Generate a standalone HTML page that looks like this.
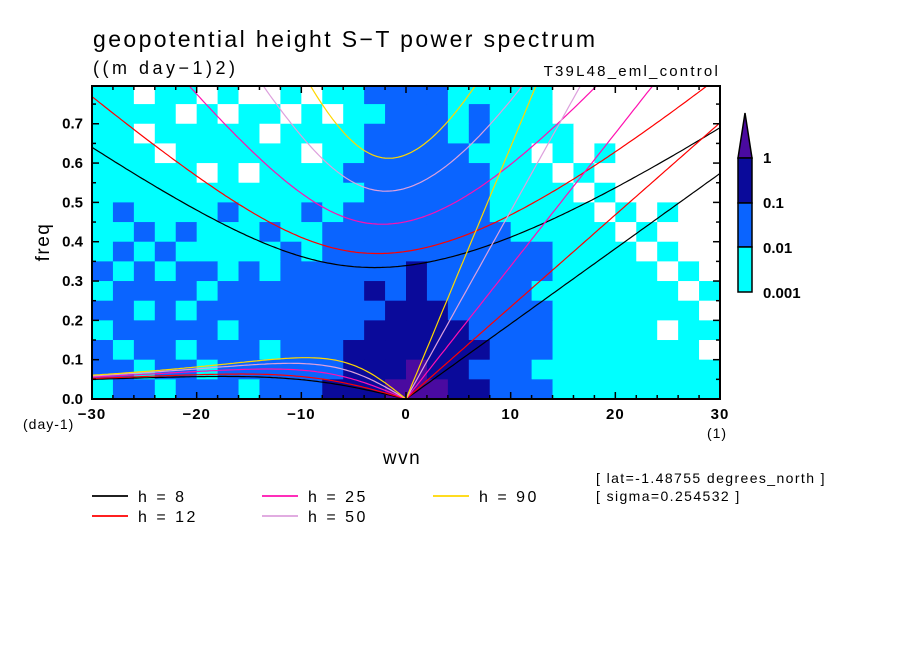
<!DOCTYPE html>
<html><head><meta charset="utf-8"><style>
html,body{margin:0;padding:0;background:#fff;}
svg text{font-family:"Liberation Sans",sans-serif;fill:#000;}
</style></head><body>
<svg id="chart" width="904" height="654" xmlns="http://www.w3.org/2000/svg">
<defs><clipPath id="pc"><rect x="92" y="86" width="628" height="313"/></clipPath></defs>
<text x="93" y="47" font-size="23" letter-spacing="2.4">geopotential height S−T power spectrum</text>
<text x="93" y="74" font-size="18" letter-spacing="3.5">((m day−1)2)</text>
<text x="720" y="76" font-size="15" text-anchor="end" letter-spacing="2.2">T39L48_eml_control</text>
<g id="field" clip-path="url(#pc)"></g>
<g id="curves" clip-path="url(#pc)"></g>
<rect x="92" y="86" width="628" height="313" fill="none" stroke="#000" stroke-width="2"/>
<g id="axes"></g>
<text transform="translate(49,242) rotate(-90)" font-size="19" text-anchor="middle" letter-spacing="1.5">freq</text>
<text x="23" y="429" font-size="14" letter-spacing="1">(day-1)</text>
<text x="717" y="438" font-size="14" text-anchor="middle" letter-spacing="1">(1)</text>
<text x="402" y="464" font-size="19" text-anchor="middle" letter-spacing="1.5">wvn</text>
<g id="cbar"></g>
<g id="legend"></g>
<text x="596" y="483" font-size="14" letter-spacing="1.4">[ lat=-1.48755 degrees_north ]</text>
<text x="596" y="501" font-size="14" letter-spacing="1.4">[ sigma=0.254532 ]</text>
</svg>
<script>
// ---- data ----
const depths = [8, 12, 25, 50, 90];
const depthColors = ["#000000", "#ff0000", "#ff10b0", "#dda0dd", "#ffd700"];
const xTicks = [-30, -20, -10, 0, 10, 20, 30];
const yTicks = [0.0, 0.1, 0.2, 0.3, 0.4, 0.5, 0.6, 0.7];
const cbarLabels = ["1", "0.1", "0.01", "0.001"];
const levelColors = ["#ffffff", "#00ffff", "#0a64ff", "#0a0a9a", "#4a0aa0"];
// power level class per cell: rows from freq 0.80 (top) down to 0.00, columns k=-30..30 step 2
const fieldRows = [
"110110100101122221111100000000",
"111101011010112221211100000000",
"110111110111122221211110000000",
"111011111101122222111010100000",
"111110101111222222211101000000",
"111111111111122222211110100000",
"121111211121222222211111010100",
"112121112112222222221111101000",
"121211111212222222222211110100",
"212122121222222322222211111010",
"122221222222232322222111111101",
"221212222222223332222211111110",
"122222122222233333222211111011",
"212212221222333333322211111110",
"221221222222333433222111111111",
"122122212223334443322211111111"];
const kMin = -30, kMax = 30, fMin = 0, fMax = 0.796;
const X0 = 92, X1 = 720, Y0 = 399, Y1 = 86;
const xs = k => X0 + (k - kMin) / (kMax - kMin) * (X1 - X0);
const ys = f => Y0 - (f - fMin) / (fMax - fMin) * (Y0 - Y1);
const NS = "http://www.w3.org/2000/svg";
function mk(tag, attrs, parent) { const e = document.createElementNS(NS, tag); for (const a in attrs) e.setAttribute(a, attrs[a]); parent.appendChild(e); return e; }

// field
const field = document.getElementById('field');
const nR = fieldRows.length, fStep = 0.8 / nR;
fieldRows.forEach((row, r) => {
  const fTop = 0.8 - r * fStep, fBot = fTop - fStep;
  for (let c = 0; c < row.length; c++) {
    const k0 = kMin + c * 2, k1 = k0 + 2;
    const el = mk('rect', { x: xs(k0), y: ys(fTop), width: xs(k1) - xs(k0) + 0.5, height: ys(fBot) - ys(fTop) + 0.5, fill: levelColors[+row[c]] }, field);
    
    
  }
});

// dispersion curves (Matsuno n=1 cubic, Kelvin)
const g = 9.81, a = 6.371e6, Om = 7.292e-5, beta = 2 * Om / a, toCpd = 86400 / (2 * Math.PI);
function newton(w, k, c) {
  for (let it = 0; it < 60; it++) {
    const f = w * w * w - (c * c * k * k + 3 * beta * c) * w - beta * c * c * k;
    const d = 3 * w * w - (c * c * k * k + 3 * beta * c);
    w -= f / d;
  }
  return w;
}
const curves = document.getElementById('curves');
depths.forEach((h, i) => {
  const c = Math.sqrt(g * h);
  const kel = [], ig = [], er = [];
  for (let s = -30; s <= 30.001; s += 0.25) {
    const k = s / a;
    if (s >= 0) kel.push([s, c * k * toCpd]);
    ig.push([s, newton(Math.sqrt(3 * beta * c + c * c * k * k) * 1.5, k, c) * toCpd]);
    if (s < 0) er.push([s, newton(-beta * k / (k * k + 3 * beta / c), k, c) * toCpd]);
    else if (s === 0) er.push([0, 0]);
  }
  [["kelvin", kel], ["ig1", ig], ["er1", er]].forEach(([nm, pts]) => {
    const d = pts.map((p, j) => (j ? 'L' : 'M') + xs(p[0]).toFixed(1) + ' ' + ys(p[1]).toFixed(1)).join(' ');
    const el = mk('path', { d: d, fill: 'none', stroke: depthColors[i], 'stroke-width': 1.2 }, curves);
    
    
  });
});

// axes
const axes = document.getElementById('axes');
for (let k = -30; k <= 30; k += 2) {
  const big = k % 10 === 0, L = big ? 7 : 4;
  mk('line', { x1: xs(k), x2: xs(k), y1: Y0, y2: Y0 - L, stroke: '#000', 'stroke-width': 1.5 }, axes);
  mk('line', { x1: xs(k), x2: xs(k), y1: Y1, y2: Y1 + L, stroke: '#000', 'stroke-width': 1.5 }, axes);
}
for (let f = 0; f <= 0.79; f += 0.05) {
  const big = Math.round(f * 100) % 10 === 0, L = big ? 7 : 4;
  mk('line', { x1: X0, x2: X0 + L, y1: ys(f), y2: ys(f), stroke: '#000', 'stroke-width': 1.5 }, axes);
  mk('line', { x1: X1, x2: X1 - L, y1: ys(f), y2: ys(f), stroke: '#000', 'stroke-width': 1.5 }, axes);
}
xTicks.forEach(k => {
  const t = mk('text', { x: xs(k), y: 419, 'font-size': 15, 'text-anchor': 'middle', 'font-weight': 'bold', 'letter-spacing': 1 }, axes);
  t.textContent = k < 0 ? '−' + (-k) : String(k);
  
  
});
yTicks.forEach(f => {
  const t = mk('text', { x: 83, y: ys(f) + 5, 'font-size': 15, 'text-anchor': 'end', 'font-weight': 'bold' }, axes);
  t.textContent = f.toFixed(1);
  
  
});

// colorbar
const cb = document.getElementById('cbar');
mk('path', { d: 'M738 158 L745 113 L752 158 Z', fill: levelColors[4], stroke: '#000', 'stroke-width': 1.5 }, cb);
[[158, 203, 3], [203, 247, 2], [247, 292, 1]].forEach(([a1, b1, l]) => {
  mk('rect', { x: 738, y: a1, width: 14, height: b1 - a1, fill: levelColors[l], stroke: '#000', 'stroke-width': 1.5 }, cb);
});
[157, 202, 247, 292].forEach((y, i) => {
  const t = mk('text', { x: 763, y: y + 6, 'font-size': 15, 'font-weight': 'bold' }, cb);
  t.textContent = cbarLabels[i];
  
  
});

// legend
const lg = document.getElementById('legend');
const legPos = [[92, 496], [92, 516], [262, 496], [262, 516], [433, 496]];
depths.forEach((h, i) => {
  const [x, y] = legPos[i];
  const ln = mk('line', { x1: x, x2: x + 36, y1: y, y2: y, stroke: depthColors[i], 'stroke-width': 1.8 }, lg);
  
  
  const t = mk('text', { x: x + 46, y: y + 6, 'font-size': 16, 'letter-spacing': 2.5, 'xml:space': 'preserve' }, lg);
  t.textContent = 'h = ' + (h < 10 ? ' ' + h : h);
  
  
});
</script>
</body></html>
